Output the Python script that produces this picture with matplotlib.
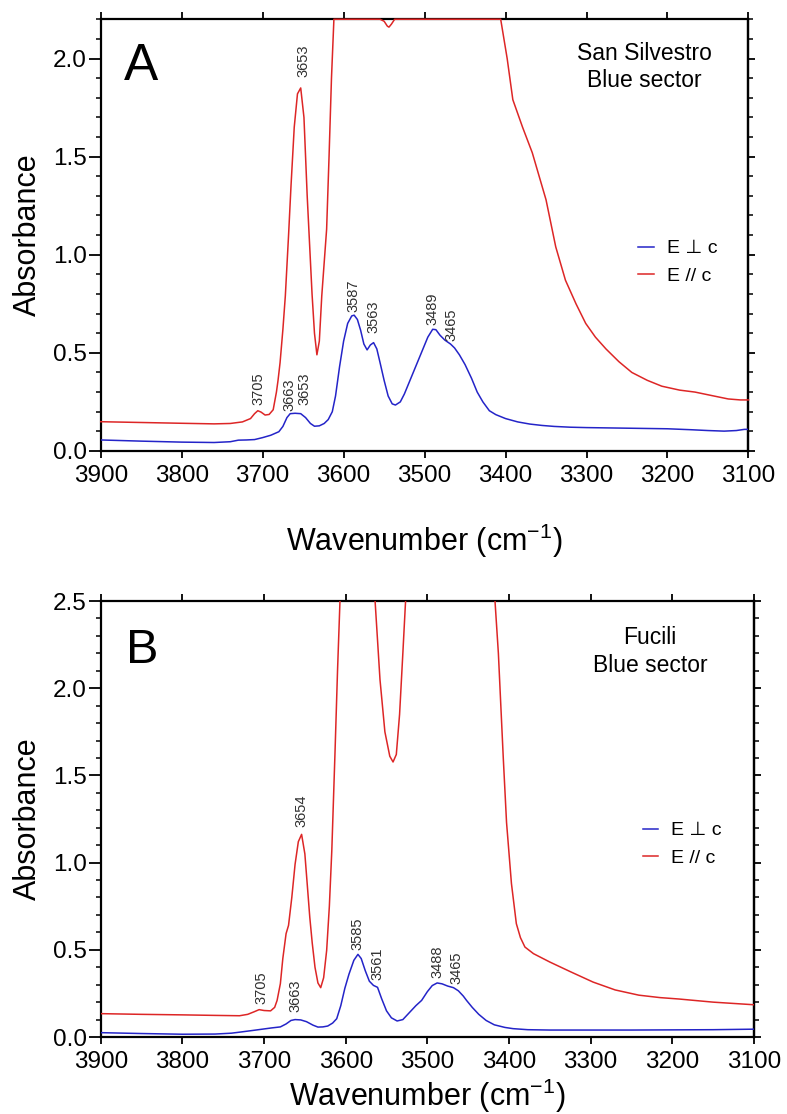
import numpy as np
import matplotlib
matplotlib.use('Agg')
import matplotlib.pyplot as plt
from matplotlib.ticker import MultipleLocator, NullFormatter, FormatStrFormatter

plt.rcParams['font.family'] = ['Liberation Sans', 'DejaVu Sans']
plt.rcParams['mathtext.default'] = 'regular'

# ---------------- Panel A: San Silvestro, blue sector ----------------
a_perp_wn = [3900, 3850, 3800, 3760, 3740, 3730, 3720, 3710, 3700, 3690, 3680, 3675, 3670,
             3666, 3660, 3653, 3647, 3641, 3636, 3630, 3624, 3619, 3614, 3610, 3605, 3600,
             3595, 3590, 3587, 3583, 3579, 3575, 3571, 3567, 3563, 3559, 3555, 3550, 3545,
             3540, 3536, 3530, 3525, 3518, 3510, 3502, 3496, 3490, 3486, 3481, 3475, 3468,
             3463, 3457, 3450, 3442, 3435, 3428, 3420, 3412, 3400, 3385, 3370, 3355, 3340,
             3320, 3300, 3250, 3200, 3170, 3150, 3130, 3115, 3105, 3100]
a_perp_abs = [0.056, 0.050, 0.045, 0.043, 0.047, 0.055, 0.056, 0.058, 0.068, 0.080, 0.098, 0.125, 0.170,
              0.190, 0.192, 0.190, 0.170, 0.140, 0.126, 0.128, 0.140, 0.160, 0.200, 0.280, 0.430, 0.560,
              0.650, 0.688, 0.692, 0.670, 0.615, 0.545, 0.515, 0.540, 0.552, 0.520, 0.450, 0.360, 0.280,
              0.240, 0.234, 0.250, 0.290, 0.360, 0.440, 0.520, 0.580, 0.620, 0.618, 0.590, 0.565, 0.545,
              0.525, 0.490, 0.440, 0.370, 0.300, 0.250, 0.205, 0.185, 0.165, 0.148, 0.137, 0.130, 0.125,
              0.121, 0.119, 0.116, 0.113, 0.108, 0.104, 0.101, 0.104, 0.110, 0.110]

a_par_wn = [3900, 3850, 3800, 3760, 3740, 3725, 3715, 3710, 3706, 3702, 3697, 3692, 3687, 3683,
            3681, 3678.5, 3675, 3672, 3668, 3665, 3661, 3657, 3653, 3649, 3645, 3642, 3639, 3636,
            3633, 3630, 3627, 3624, 3621, 3618, 3615, 3612, 3555, 3550, 3546, 3544, 3541, 3537,
            3406, 3398, 3391, 3379, 3367, 3350, 3338, 3326, 3313, 3301, 3289, 3276, 3260, 3244,
            3225, 3207, 3185, 3166, 3145, 3125, 3110, 3100]
a_par_abs = [0.149, 0.145, 0.141, 0.138, 0.140, 0.148, 0.165, 0.190, 0.205, 0.198, 0.183, 0.186, 0.210, 0.300,
             0.360, 0.450, 0.620, 0.790, 1.100, 1.350, 1.650, 1.820, 1.850, 1.700, 1.300, 1.050, 0.800, 0.600,
             0.490, 0.560, 0.790, 0.960, 1.130, 1.500, 1.900, 2.200, 2.200, 2.190, 2.165, 2.160, 2.175, 2.200,
             2.200, 2.000, 1.790, 1.650, 1.520, 1.280, 1.040, 0.870, 0.750, 0.650, 0.580, 0.520, 0.455, 0.400,
             0.360, 0.330, 0.310, 0.300, 0.282, 0.265, 0.260, 0.260]

# ---------------- Panel B: Fucili, blue sector ----------------
b_perp_wn = [3900, 3850, 3800, 3760, 3740, 3728, 3710, 3691, 3680, 3673, 3667, 3662, 3655, 3648,
             3640, 3634, 3628, 3622, 3616, 3611, 3606, 3601, 3596, 3590, 3585, 3581, 3576, 3571,
             3566, 3561, 3556, 3550, 3544, 3537, 3530, 3522, 3514, 3507, 3500, 3494, 3488, 3482,
             3475, 3468, 3462, 3456, 3452, 3445, 3437, 3428, 3418, 3405, 3395, 3377, 3350, 3300,
             3250, 3200, 3150, 3100]
b_perp_abs = [0.025, 0.020, 0.016, 0.017, 0.022, 0.029, 0.040, 0.052, 0.058, 0.075, 0.095, 0.100, 0.098, 0.088,
              0.068, 0.057, 0.058, 0.063, 0.080, 0.105, 0.180, 0.280, 0.360, 0.440, 0.474, 0.450, 0.380, 0.320,
              0.296, 0.285, 0.220, 0.150, 0.110, 0.092, 0.100, 0.140, 0.180, 0.210, 0.260, 0.295, 0.310, 0.305,
              0.292, 0.283, 0.265, 0.235, 0.210, 0.170, 0.130, 0.095, 0.070, 0.055, 0.048, 0.042, 0.040, 0.040,
              0.040, 0.041, 0.042, 0.045]

b_par_wn = [3900, 3850, 3800, 3760, 3730, 3720, 3712, 3706, 3700, 3692, 3687, 3684, 3680, 3677,
            3673, 3670, 3666, 3662, 3658, 3654, 3650, 3647, 3644, 3641, 3637.6, 3634, 3630.6, 3627,
            3623.3, 3620, 3617, 3613, 3610, 3607, 3603, 3570, 3564, 3558, 3552, 3546, 3542, 3538,
            3534, 3530, 3527, 3523, 3420, 3417, 3413, 3410, 3407, 3403, 3397, 3391, 3386, 3380.5,
            3370, 3350, 3325, 3297, 3270, 3241, 3215, 3192, 3150, 3100]
b_par_abs = [0.134, 0.130, 0.127, 0.124, 0.122, 0.130, 0.145, 0.157, 0.152, 0.150, 0.170, 0.210, 0.306, 0.450,
             0.593, 0.640, 0.800, 0.990, 1.120, 1.162, 1.050, 0.870, 0.688, 0.540, 0.400, 0.310, 0.283, 0.340,
             0.497, 0.750, 1.070, 1.644, 2.100, 2.500, 2.800, 2.800, 2.500, 2.050, 1.750, 1.610, 1.577, 1.620,
             1.850, 2.200, 2.470, 2.800, 2.800, 2.490, 2.200, 1.900, 1.600, 1.230, 0.880, 0.650, 0.570, 0.516,
             0.478, 0.430, 0.375, 0.315, 0.270, 0.240, 0.226, 0.218, 0.200, 0.185]

# peak annotations: (label, series)
a_peaks = [('3705', 'par'), ('3663', 'perp'), ('3653', 'perp'), ('3653', 'par'),
           ('3587', 'perp'), ('3563', 'perp'), ('3489', 'perp'), ('3465', 'perp')]
b_peaks = [('3705', 'par'), ('3663', 'perp'), ('3654', 'par'),
           ('3585', 'perp'), ('3561', 'perp'), ('3488', 'perp'), ('3465', 'perp')]

legend_labels = ['E \u22a5 c', 'E // c']
samples = ['San Silvestro\nBlue sector', 'Fucili\nBlue sector']
panel_letters = ['A', 'B']

BLUE = '#2424c8'
RED = '#dd2626'

fig = plt.figure(figsize=(7.87, 11.14), dpi=100)
axA = fig.add_axes([0.128, 0.5952, 0.823, 0.3875])
axB = fig.add_axes([0.128, 0.0691, 0.830, 0.3914])


def style(ax, ymax):
    ax.set_xlim(3900, 3100)
    ax.set_ylim(0, ymax)
    ax.xaxis.set_major_locator(MultipleLocator(100))
    ax.yaxis.set_major_locator(MultipleLocator(0.5))
    ax.yaxis.set_minor_locator(MultipleLocator(0.1))
    ax.yaxis.set_major_formatter(FormatStrFormatter('%.1f'))
    ax.tick_params(axis='x', which='major', direction='out', length=5, width=1.3,
                   top=True, bottom=True, labelsize=17.5, pad=5)
    ax.tick_params(axis='y', which='major', direction='out', length=9, width=1.3,
                   left=True, right=False, labelsize=17.5, pad=1)
    ax.tick_params(axis='y', which='minor', direction='out', length=3.5, width=1.1,
                   left=True, right=False)
    for s in ax.spines.values():
        s.set_linewidth(1.6)
    sec = ax.secondary_yaxis('right')
    sec.yaxis.set_major_locator(MultipleLocator(0.5))
    sec.yaxis.set_minor_locator(MultipleLocator(0.1))
    sec.yaxis.set_major_formatter(NullFormatter())
    sec.tick_params(which='major', direction='out', length=5, width=1.3)
    sec.tick_params(which='minor', direction='out', length=3.5, width=1.1)
    sec.spines['right'].set_linewidth(1.6)
    ax.set_xlabel('Wavenumber (cm$^{-1}$)', fontsize=22)
    ax.set_ylabel('Absorbance', fontsize=22)


def annotate(ax, peaks, wn_perp, ab_perp, wn_par, ab_par, offsets):
    for (lab, ser), (dx, dy) in zip(peaks, offsets):
        w = float(lab)
        if ser == 'perp':
            yv = np.interp(w, wn_perp[::-1], ab_perp[::-1])
        else:
            yv = np.interp(w, wn_par[::-1], ab_par[::-1])
        ax.annotate(lab, xy=(w, yv), xytext=(dx, dy), textcoords='offset pixels',
                    rotation=90, ha='center', va='bottom', fontsize=10.5, color='#303030')


# Panel A
style(axA, 2.2)
lp, = axA.plot(a_perp_wn, a_perp_abs, color=BLUE, lw=1.1, zorder=3)
lr, = axA.plot(a_par_wn, a_par_abs, color=RED, lw=1.1, zorder=3, clip_on=False)
annotate(axA, a_peaks, a_perp_wn, a_perp_abs, a_par_wn, a_par_abs,
         [(0, 6), (-3, 2), (4, 9), (3, 11), (-1, 3), (0, 10), (-1, 4), (-1, 5)])
axA.legend([lp, lr], legend_labels, loc='center left', bbox_to_anchor=(0.83, 0.437),
           frameon=False, fontsize=14, handlelength=0.8, handletextpad=0.65,
           labelspacing=0.5, borderpad=0, borderaxespad=0)
axA.text(0.84, 0.890, samples[0], transform=axA.transAxes, ha='center', va='center',
         fontsize=16.5, linespacing=1.25)
axA.text(0.062, 0.89, panel_letters[0], transform=axA.transAxes, ha='center', va='center',
         fontsize=37)
axA.yaxis.set_label_coords(-0.090, 0.5)
axA.xaxis.set_label_coords(0.5, -0.163)

# Panel B
style(axB, 2.5)
lp2, = axB.plot(b_perp_wn, b_perp_abs, color=BLUE, lw=1.1, zorder=3)
lr2, = axB.plot(b_par_wn, b_par_abs, color=RED, lw=1.1, zorder=3)
annotate(axB, b_peaks, b_perp_wn, b_perp_abs, b_par_wn, b_par_abs,
         [(2, 6), (1, 8), (0, 7), (0, 4), (0, 7), (0, 5), (1, 5)])
axB.legend([lp2, lr2], legend_labels, loc='center left', bbox_to_anchor=(0.83, 0.442),
           frameon=False, fontsize=14, handlelength=0.8, handletextpad=0.65,
           labelspacing=0.5, borderpad=0, borderaxespad=0)
axB.text(0.841, 0.884, samples[1], transform=axB.transAxes, ha='center', va='center',
         fontsize=16.5, linespacing=1.25)
axB.text(0.063, 0.886, panel_letters[1], transform=axB.transAxes, ha='center', va='center',
         fontsize=35)
axB.yaxis.set_label_coords(-0.089, 0.5)
axB.xaxis.set_label_coords(0.5, -0.0906)

fig.savefig('out.png', dpi=100)
